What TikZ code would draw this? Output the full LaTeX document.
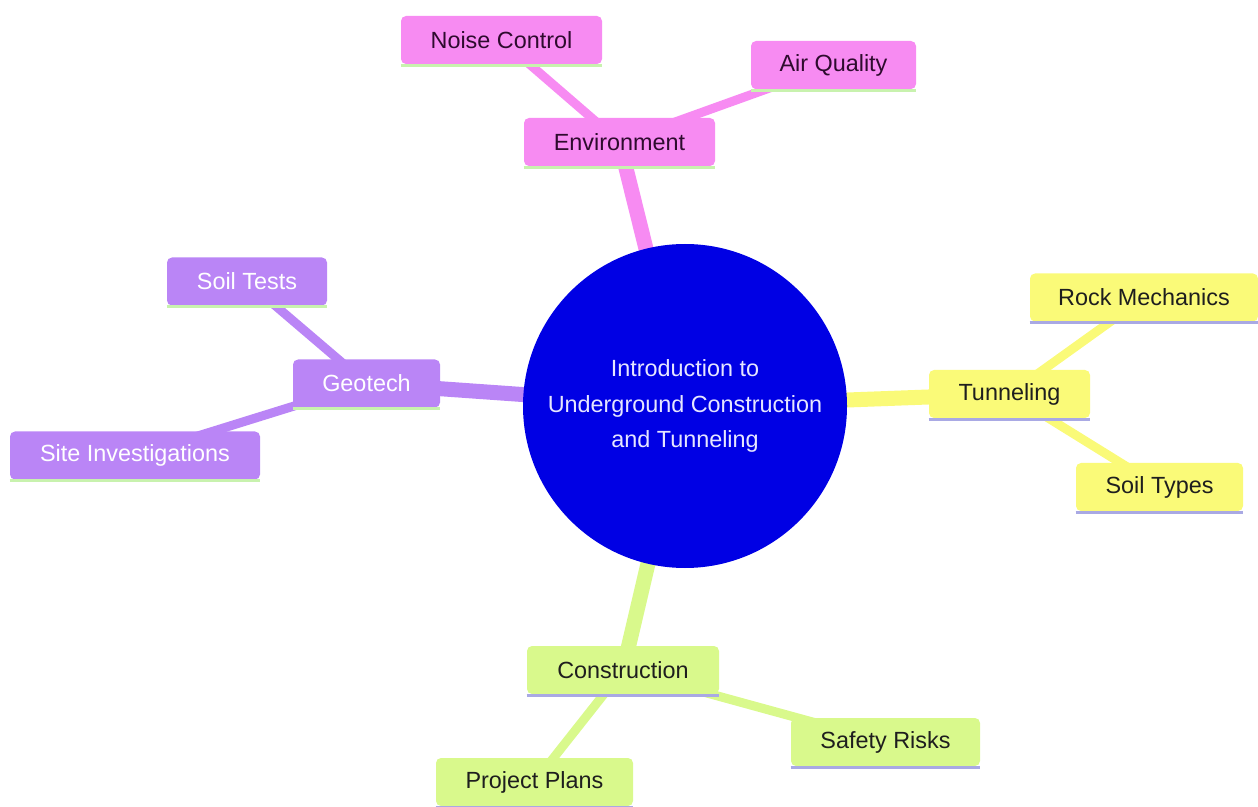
\documentclass[tikz,border=0pt]{standalone}
\usepackage{fontspec}
\setmainfont{Liberation Sans}
\usetikzlibrary{backgrounds}
\definecolor{cpink}{HTML}{F78BF2}
\definecolor{cpurple}{HTML}{BA85F6}
\definecolor{cyellow}{HTML}{FAFA78}
\definecolor{cgreen}{HTML}{D9F98C}
\definecolor{cblue}{HTML}{0000E4}
\definecolor{lgreen}{HTML}{C8F2AE}
\definecolor{lavender}{HTML}{A9A9E4}
\definecolor{pinktext}{HTML}{2E0B2E}
\definecolor{darktext}{HTML}{1E1E1E}
\definecolor{roottext}{HTML}{E6E6FF}
\tikzset{
  mmnode/.style={rectangle, rounded corners=2.5pt, minimum height=24pt, inner sep=0pt, align=center,
    font=\fontsize{11.7}{14}\selectfont},
  pinknode/.style={mmnode, fill=cpink, text=pinktext},
  purplenode/.style={mmnode, fill=cpurple, text=white},
  yellownode/.style={mmnode, fill=cyellow, text=darktext},
  greennode/.style={mmnode, fill=cgreen, text=darktext},
  rootedge/.style={line width=7.5pt},
  leafedge/.style={line width=4.5pt},
  underline/.style={line width=1.6pt}
}
\begin{document}
\begin{tikzpicture}[x=0.5pt,y=-0.5pt]
\useasboundingbox (0,0) rectangle (1258,807);
% root
\node[circle, fill=cblue, minimum size=162pt, inner sep=0pt, text=roottext, align=center,
  font=\fontsize{11.7}{17.75}\selectfont] (root) at (685,406)
  {Introduction to\\Underground Construction\\and Tunneling};
% environment
\node[pinknode, minimum width=95.5pt] (env) at (619.5,142) {Environment};
\node[pinknode, minimum width=100.5pt] (noise) at (501.5,40) {Noise Control};
\node[pinknode, minimum width=82.5pt] (air) at (833.5,65) {Air Quality};
% geotech
\node[purplenode, minimum width=73.5pt] (geo) at (366.5,383.5) {Geotech};
\node[purplenode, minimum width=80pt] (soiltests) at (247,281.5) {Soil Tests};
\node[purplenode, minimum width=125pt] (site) at (135,455.5) {Site Investigations};
% tunneling
\node[yellownode, minimum width=80.5pt] (tun) at (1009.5,394) {Tunneling};
\node[yellownode, minimum width=114pt] (rock) at (1144,297.5) {Rock Mechanics};
\node[yellownode, minimum width=83.5pt] (soiltypes) at (1159.5,487) {Soil Types};
% construction
\node[greennode, minimum width=96pt] (cons) at (623,670) {Construction};
\node[greennode, minimum width=94.5pt] (safety) at (885.5,742) {Safety Risks};
\node[greennode, minimum width=98.5pt] (plans) at (534.5,782) {Project Plans};
% underlines
\foreach \n/\c in {env/lgreen, noise/lgreen, air/lgreen, geo/lgreen, soiltests/lgreen, site/lgreen,
  tun/lavender, rock/lavender, soiltypes/lavender, cons/lavender, safety/lavender, plans/lavender}
  \draw[underline, \c] ([yshift=-0.4pt]\n.south west) -- ([yshift=-0.4pt]\n.south east);
% edges
\begin{scope}[on background layer]
  \draw[rootedge, cpink] (root.center) -- (env.center);
  \draw[leafedge, cpink] (env.center) -- (noise.center);
  \draw[leafedge, cpink] (env.center) -- (air.center);
  \draw[rootedge, cpurple] (root.center) -- (geo.center);
  \draw[leafedge, cpurple] (geo.center) -- (soiltests.center);
  \draw[leafedge, cpurple] (geo.center) -- (site.center);
  \draw[rootedge, cyellow] (root.center) -- (tun.center);
  \draw[leafedge, cyellow] (tun.center) -- (rock.center);
  \draw[leafedge, cyellow] (tun.center) -- (soiltypes.center);
  \draw[rootedge, cgreen] (root.center) -- (cons.center);
  \draw[leafedge, cgreen] (cons.center) -- (safety.center);
  \draw[leafedge, cgreen] (cons.center) -- (plans.center);
\end{scope}
\end{tikzpicture}
\end{document}
